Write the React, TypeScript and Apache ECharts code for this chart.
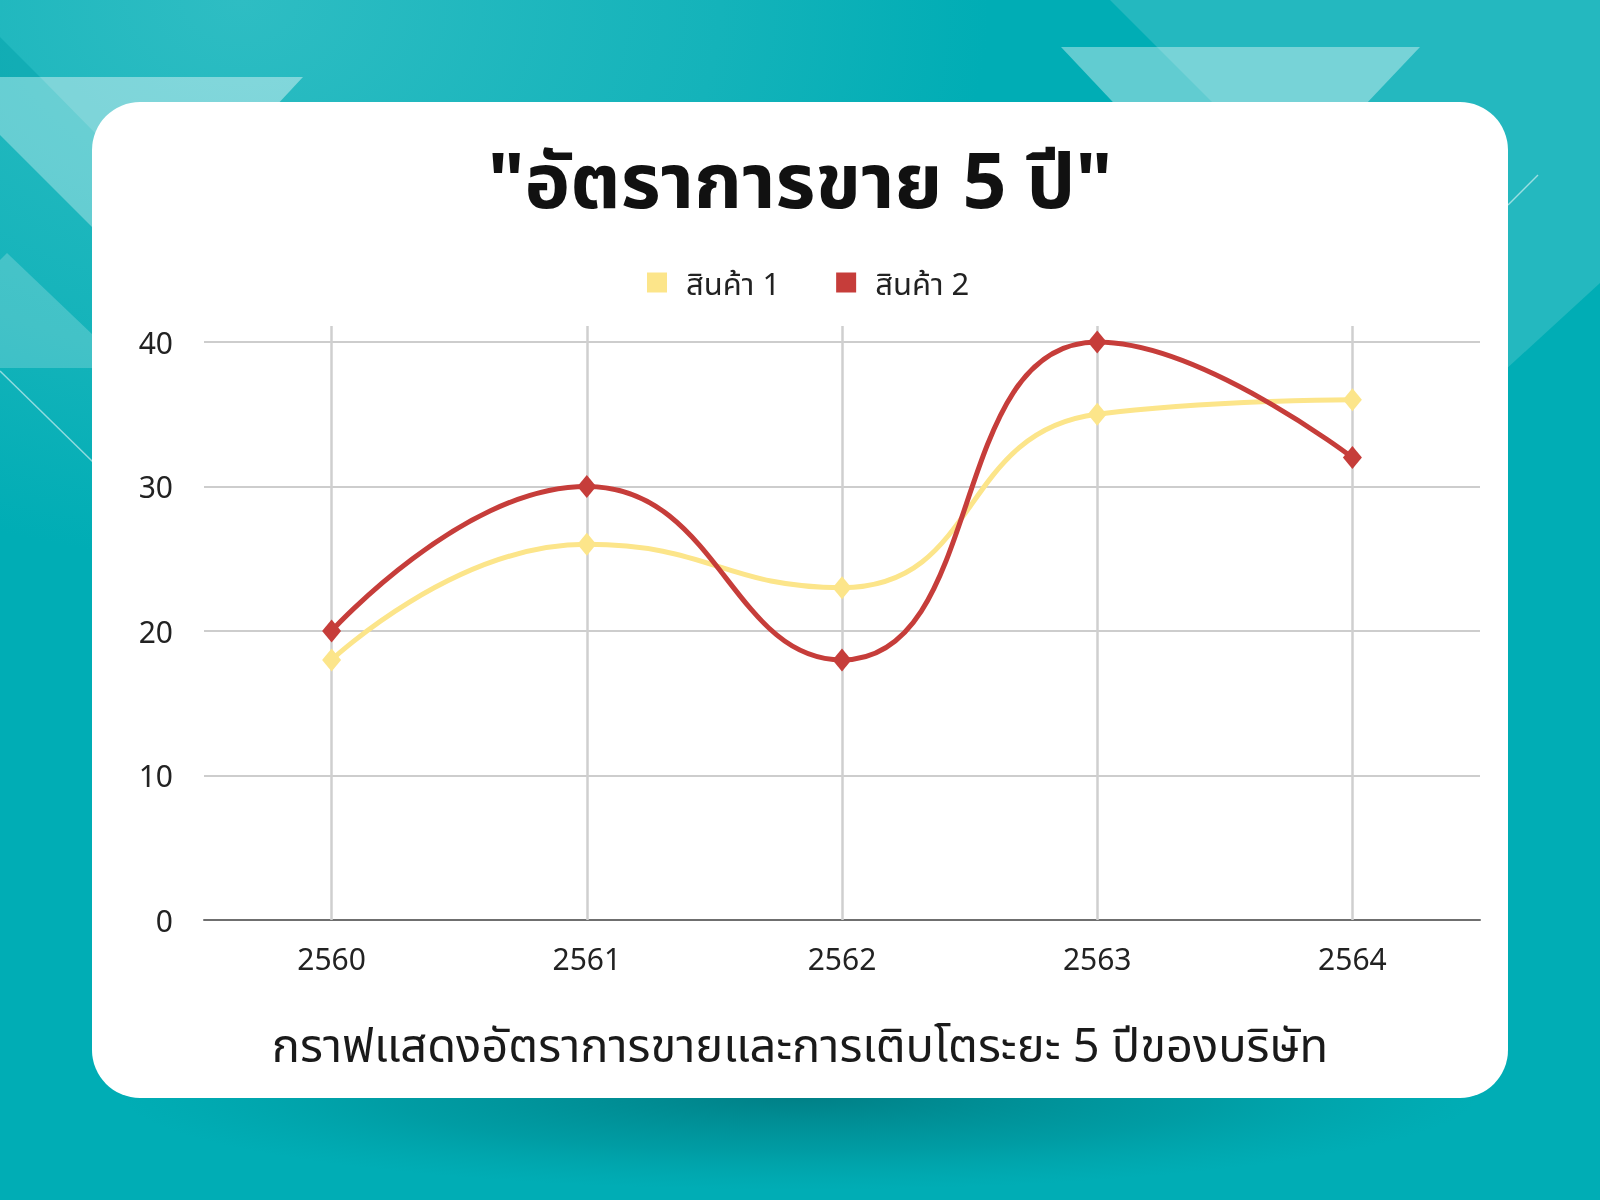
import React, { useEffect, useRef } from 'react';
import * as echarts from 'echarts';

const years = ['2560', '2561', '2562', '2563', '2564'];
const product1 = [18, 26, 23, 35, 36];
const product2 = [20, 30, 18, 40, 32];
const seriesNames = ['สินค้า 1', 'สินค้า 2'];
const seriesColors = ['#fce58a', '#c63d3a'];

const titleText = '"อัตราการขาย 5 ปี"';
const subtitleText = 'กราฟแสดงอัตราการขายและการเติบโตระยะ 5 ปีของบริษัท';

const FONT = "'Noto Sans', 'Noto Sans Thai', sans-serif";

const App = () => {
  const chartRef = useRef<HTMLDivElement>(null);

  useEffect(() => {
    if (!chartRef.current) return;
    const chart = echarts.init(chartRef.current, null, { renderer: 'svg' });

    const white = (a: number) => `rgba(255,255,255,${a})`;

    const option = {
      animation: false,
      textStyle: { fontFamily: FONT },
      graphic: [
        // teal backdrop
        {
          type: 'rect',
          z: -20,
          shape: { x: 0, y: 0, width: 1600, height: 1200 },
          style: {
            fill: new echarts.graphic.RadialGradient(0.15, 0, 0.6, [
              { offset: 0, color: '#2ebdc3' },
              { offset: 0.5, color: '#14b3ba' },
              { offset: 0.78, color: '#00adb5' },
              { offset: 1, color: '#00adb5' }
            ])
          }
        },
        // right lighter region
        {
          type: 'polygon',
          z: -19,
          shape: { points: [[1110, 0], [1600, 0], [1600, 283], [1492, 382]] },
          style: { fill: white(0.14) }
        },
        // trapezoid at top right
        {
          type: 'polygon',
          z: -18,
          shape: { points: [[1061, 47], [1420, 47], [1240, 237]] },
          style: { fill: white(0.38) }
        },
        // dark wedge top left
        {
          type: 'polygon',
          z: -18,
          shape: { points: [[0, 37], [40, 77], [0, 77]] },
          style: { fill: 'rgba(0,160,168,0.45)' }
        },
        // light band top left
        {
          type: 'polygon',
          z: -18,
          shape: { points: [[0, 77], [303, 77], [260, 123], [92, 227], [0, 135]] },
          style: { fill: white(0.32) }
        },
        {
          type: 'polygon',
          z: -17,
          shape: { points: [[40, 77], [303, 77], [250, 134], [96, 134]] },
          style: { fill: white(0.14) }
        },
        // lower left triangle
        {
          type: 'polygon',
          z: -18,
          shape: { points: [[0, 260], [7, 253], [93, 335], [93, 368], [0, 368]] },
          style: { fill: white(0.2) }
        },
        // thin lines
        {
          type: 'line',
          z: -18,
          shape: { x1: 0, y1: 371, x2: 93, y2: 462 },
          style: { stroke: white(0.55), lineWidth: 1.5 }
        },
        {
          type: 'line',
          z: -18,
          shape: { x1: 1508, y1: 205, x2: 1538, y2: 175 },
          style: { stroke: white(0.55), lineWidth: 1.5 }
        },
        // card shadow
        {
          type: 'ellipse',
          z: -16,
          shape: { cx: 800, cy: 1095, rx: 680, ry: 95 },
          style: {
            fill: new echarts.graphic.RadialGradient(0.5, 0.5, 0.5, [
              { offset: 0, color: 'rgba(0,70,75,0.45)' },
              { offset: 0.6, color: 'rgba(0,90,95,0.2)' },
              { offset: 1, color: 'rgba(0,120,125,0)' }
            ])
          }
        },
        // card
        {
          type: 'rect',
          z: -15,
          shape: { x: 92, y: 102, width: 1416, height: 996, r: 48 },
          style: { fill: '#ffffff' }
        }
      ],
      title: [
        {
          text: titleText,
          left: 'center',
          top: 132,
          padding: 0,
          textStyle: {
            fontFamily: FONT,
            fontSize: 77,
            fontWeight: 'bold',
            color: '#111111',
            lineHeight: 92
          }
        },
        {
          text: subtitleText,
          left: 'center',
          top: 1016,
          padding: 0,
          textStyle: {
            fontFamily: FONT,
            fontSize: 47,
            fontWeight: 'normal',
            color: '#1a1a1a',
            lineHeight: 56
          }
        }
      ],
      legend: {
        top: 267,
        left: 647,
        padding: 0,
        icon: 'rect',
        itemWidth: 20,
        itemHeight: 20,
        itemGap: 56,
        textStyle: { fontFamily: FONT, fontSize: 31, color: '#222222', padding: [0, 0, 0, 14] },
        data: seriesNames
      },
      grid: { left: 204, right: 120, top: 342, bottom: 280 },
      xAxis: {
        type: 'category',
        data: years,
        boundaryGap: true,
        axisLine: { show: true, lineStyle: { color: '#6f6f6f', width: 2 } },
        axisTick: {
          show: true,
          alignWithLabel: true,
          inside: true,
          length: 594,
          lineStyle: { color: '#cfcfcf', width: 2.5 }
        },
        axisLabel: { fontFamily: FONT, fontSize: 30, color: '#222222', margin: 23 },
        splitLine: { show: false }
      },
      yAxis: {
        type: 'value',
        min: 0,
        max: 40,
        interval: 10,
        axisLine: { show: false },
        axisTick: { show: false },
        axisLabel: { fontFamily: FONT, fontSize: 30, color: '#222222', margin: 31 },
        splitLine: { lineStyle: { color: '#bdbdbd', width: 1.5 } }
      },
      series: [
        {
          name: seriesNames[0],
          type: 'line',
          data: product1,
          smooth: 0.5,
          symbol: 'diamond',
          symbolSize: [19, 23],
          color: seriesColors[0],
          lineStyle: { width: 5, color: seriesColors[0] },
          itemStyle: { color: seriesColors[0] }
        },
        {
          name: seriesNames[1],
          type: 'line',
          data: product2,
          smooth: 0.5,
          symbol: 'diamond',
          symbolSize: [19, 23],
          color: seriesColors[1],
          lineStyle: { width: 5, color: seriesColors[1] },
          itemStyle: { color: seriesColors[1] }
        }
      ]
    };

    chart.setOption(option);

    return () => {
      chart.dispose();
    };
  }, []);

  return (
    <div
      ref={chartRef}
      style={{ position: 'fixed', left: 0, top: 0, width: 1600, height: 1200 }}
    />
  );
};

export default App;
